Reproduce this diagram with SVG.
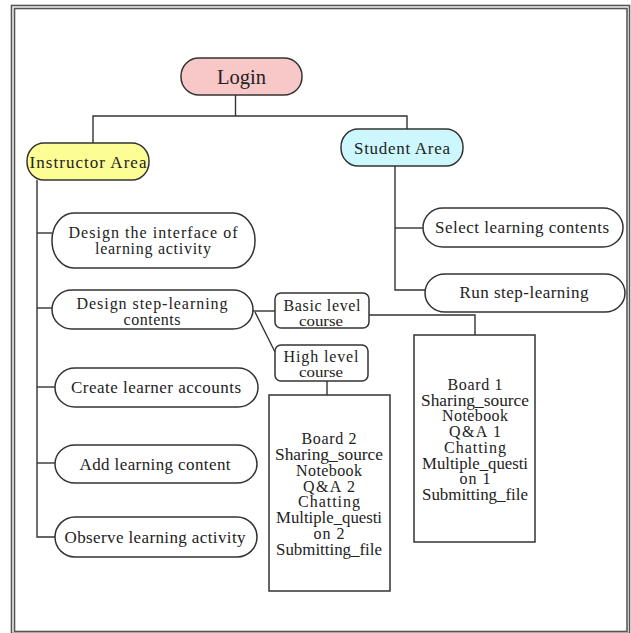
<svg xmlns="http://www.w3.org/2000/svg" width="631" height="633" viewBox="0 0 631 633">
<style>
  .frame { fill: none; stroke: #555; stroke-width: 1.6; }
  .node { stroke: #333; stroke-width: 1.5; }
  .plain { fill: #fff; }
  .conn { fill: none; stroke: #333; stroke-width: 1.4; }
  text { font-family: "Liberation Serif", "DejaVu Serif", serif; fill: #222; text-anchor: middle; }
  .t17 { font-size: 17px; }
  .t16 { font-size: 16px; }
  .t14 { font-size: 14px; }
  .board { font-size: 16px; }
</style>
<rect x="0" y="0" width="631" height="633" fill="#fff"/>
<rect class="frame" x="11.5" y="5.5" width="618" height="628"/>
<rect class="frame" x="14.5" y="8.5" width="612.5" height="623"/>

<g id="connectors">
  <polyline class="conn" points="235.5,95 235.5,116"/>
  <polyline class="conn" points="93,143 93,116 407,116 407,129"/>
  <polyline class="conn" points="37,180 37,537 55,537"/>
  <line class="conn" x1="37" y1="233" x2="52" y2="233"/>
  <line class="conn" x1="37" y1="308" x2="52" y2="308"/>
  <line class="conn" x1="37" y1="387" x2="55" y2="387"/>
  <line class="conn" x1="37" y1="463" x2="55" y2="463"/>
  <polyline class="conn" points="395,166 395,290 425,290"/>
  <line class="conn" x1="395" y1="228" x2="423" y2="228"/>
  <line class="conn" x1="253" y1="311" x2="275" y2="311"/>
  <line class="conn" x1="255" y1="312" x2="275" y2="352"/>
  <polyline class="conn" points="369,315 475,315 475,335"/>
  <line class="conn" x1="327" y1="381" x2="327" y2="395"/>
</g>

<g id="login">
  <rect class="node" x="181" y="58" width="121" height="37" rx="18" ry="18" fill="#f8c8c8"/>
  <text x="241.5" y="84" font-size="20" textLength="49" lengthAdjust="spacingAndGlyphs">Login</text>
</g>
<g id="instructor-area">
  <rect class="node" x="27" y="143" width="122" height="37" rx="17" ry="18" fill="#fdfd96"/>
  <text class="t17" x="88" y="168" textLength="117" lengthAdjust="spacing">Instructor Area</text>
</g>
<g id="student-area">
  <rect class="node" x="341" y="129" width="122" height="37" rx="17" ry="18" fill="#ccf8fd"/>
  <text class="t17" x="402" y="154" textLength="96" lengthAdjust="spacing">Student Area</text>
</g>

<g id="design-interface">
  <rect class="node plain" x="52" y="213" width="203" height="55" rx="22" ry="27"/>
  <text class="t16" x="153" y="238" textLength="169" lengthAdjust="spacing">Design the interface of</text>
  <text class="t16" x="153" y="254" textLength="116" lengthAdjust="spacing">learning activity</text>
</g>
<g id="design-step">
  <rect class="node plain" x="52" y="290" width="201" height="39" rx="20" ry="19.5"/>
  <text class="t16" x="152" y="309" textLength="151" lengthAdjust="spacing">Design step-learning</text>
  <text class="t16" x="152" y="325" textLength="57" lengthAdjust="spacing">contents</text>
</g>
<g id="create-accounts">
  <rect class="node plain" x="55" y="368" width="203" height="39" rx="20" ry="19.5"/>
  <text class="t17" x="156" y="393" textLength="170" lengthAdjust="spacing">Create learner accounts</text>
</g>
<g id="add-content">
  <rect class="node plain" x="55" y="445" width="202" height="38" rx="20" ry="19"/>
  <text class="t17" x="155" y="470" textLength="151" lengthAdjust="spacing">Add learning content</text>
</g>
<g id="observe-activity">
  <rect class="node plain" x="55" y="517" width="202" height="40" rx="20" ry="20"/>
  <text class="t17" x="155" y="543" textLength="181" lengthAdjust="spacing">Observe learning activity</text>
</g>

<g id="select-contents">
  <rect class="node plain" x="423" y="208" width="200" height="39" rx="20" ry="19.5"/>
  <text class="t17" x="522" y="233" textLength="174" lengthAdjust="spacing">Select learning contents</text>
</g>
<g id="run-step">
  <rect class="node plain" x="425" y="274" width="200" height="38" rx="20" ry="19"/>
  <text class="t17" x="524" y="298" textLength="129" lengthAdjust="spacing">Run step-learning</text>
</g>

<g id="basic-course">
  <rect class="node plain" x="275" y="293" width="94" height="35" rx="6" ry="6"/>
  <text class="t16" x="322" y="311" textLength="77" lengthAdjust="spacing">Basic level</text>
  <text class="t14" x="321" y="326" textLength="44" lengthAdjust="spacingAndGlyphs">course</text>
</g>
<g id="high-course">
  <rect class="node plain" x="275" y="345" width="93" height="36" rx="6" ry="6"/>
  <text class="t16" x="321" y="362" textLength="75" lengthAdjust="spacing">High level</text>
  <text class="t14" x="321" y="377" textLength="44" lengthAdjust="spacingAndGlyphs">course</text>
</g>

<g id="board1">
  <rect class="node plain" x="414" y="335" width="121" height="207"/>
  <text class="board" x="475" y="390" textLength="55" lengthAdjust="spacing">Board 1</text>
  <text class="board" x="475" y="405.7" textLength="108" lengthAdjust="spacingAndGlyphs">Sharing_source</text>
  <text class="board" x="475" y="421.4" textLength="66" lengthAdjust="spacing">Notebook</text>
  <text class="board" x="475" y="437.1" textLength="52" lengthAdjust="spacing">Q&amp;A 1</text>
  <text class="board" x="475" y="452.8" textLength="62" lengthAdjust="spacing">Chatting</text>
  <text class="board" x="475" y="468.5" textLength="106" lengthAdjust="spacingAndGlyphs">Multiple_questi</text>
  <text class="board" x="475" y="484.2" textLength="31" lengthAdjust="spacing">on 1</text>
  <text class="board" x="475" y="500" textLength="106" lengthAdjust="spacingAndGlyphs">Submitting_file</text>
</g>
<g id="board2">
  <rect class="node plain" x="269" y="395" width="121" height="196"/>
  <text class="board" x="329" y="444" textLength="55" lengthAdjust="spacing">Board 2</text>
  <text class="board" x="329" y="459.9" textLength="108" lengthAdjust="spacingAndGlyphs">Sharing_source</text>
  <text class="board" x="329" y="475.7" textLength="66" lengthAdjust="spacing">Notebook</text>
  <text class="board" x="329" y="491.6" textLength="52" lengthAdjust="spacing">Q&amp;A 2</text>
  <text class="board" x="329" y="507.4" textLength="62" lengthAdjust="spacing">Chatting</text>
  <text class="board" x="329" y="523.3" textLength="106" lengthAdjust="spacingAndGlyphs">Multiple_questi</text>
  <text class="board" x="329" y="539.1" textLength="31" lengthAdjust="spacing">on 2</text>
  <text class="board" x="329" y="555" textLength="106" lengthAdjust="spacingAndGlyphs">Submitting_file</text>
</g>
</svg>
